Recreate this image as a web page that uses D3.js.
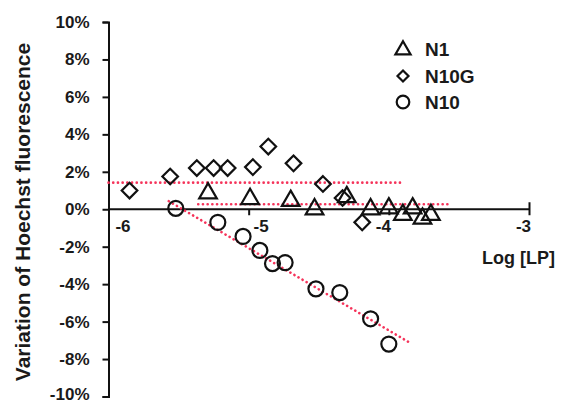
<!DOCTYPE html>
<html>
<head>
<meta charset="utf-8">
<script src="https://cdn.jsdelivr.net/npm/d3@7/dist/d3.min.js"></script>
<style>
  html, body { margin: 0; padding: 0; background: #fff; }
  svg { display: block; font-family: "Liberation Sans", Arial, sans-serif; font-weight: bold; }
</style>
</head>
<body>
<svg id="chart" width="563" height="405"></svg>
<script>
// ---- data ----
const n1X   = [-5.29, -4.99, -4.70, -4.53, -4.30, -4.13, -4.00, -3.90, -3.83, -3.76, -3.70];
const n1Y   = [0.85, 0.55, 0.45, 0.0, 0.65, 0.0, 0.05, -0.3, 0.05, -0.5, -0.3];
const n10gX = [-5.85, -5.56, -5.37, -5.25, -5.15, -4.97, -4.86, -4.68, -4.47, -4.33, -4.19];
const n10gY = [1.0, 1.75, 2.2, 2.2, 2.2, 2.25, 3.35, 2.45, 1.35, 0.6, -0.7];
const n10X  = [-5.52, -5.22, -5.04, -4.92, -4.83, -4.74, -4.52, -4.35, -4.13, -4.00];
const n10Y  = [0.05, -0.7, -1.45, -2.2, -2.9, -2.85, -4.25, -4.45, -5.85, -7.2];
// dotted trend lines: [x1, y1, x2, y2]
const trendN10G = [-6.0, 1.42, -3.92, 1.42];
const trendN1   = [-5.36, 0.27, -3.58, 0.27];
const trendN10  = [-5.57, 0.43, -3.85, -7.13];
const xTicks = [-6, -5, -4, -3];
const yTicks = [-10, -8, -6, -4, -2, 0, 2, 4, 6, 8, 10];
const seriesNames = ["N1", "N10G", "N10"];
const xTitle = "Log [LP]";
const yTitle = "Variation of Hoechst fluorescence";

// ---- layout ----
const svg = d3.select("#chart");
const x = d3.scaleLinear().domain([-6, -3]).range([108.5, 529]);
const y = d3.scaleLinear().domain([-10, 10]).range([396.5, 22]);
const ink = "#111";
const red = "#f5335a";
const font = "'Liberation Sans', Arial, sans-serif";

// y axis
const yAxis = d3.axisLeft(y).tickValues(yTicks).tickSize(6).tickPadding(13)
  .tickFormat(d => d + "%");
const gy = svg.append("g").attr("transform", `translate(${x(-6)},0)`).call(yAxis);
gy.select(".domain").attr("stroke", ink).attr("stroke-width", 2);
gy.selectAll(".tick line").attr("stroke", ink).attr("stroke-width", 2);
gy.selectAll(".tick text").attr("fill", "#1a1a1a").style("font-size", "17px")
  .style("font-weight", "bold").style("font-family", font)
  .attr("dy", d => d === -10 ? "0.2em" : "0.32em");

// x axis at y = 0
const xAxis = d3.axisBottom(x).tickValues(xTicks).tickSize(6).tickPadding(5)
  .tickFormat(d => d);
const gx = svg.append("g").attr("transform", `translate(0,${y(0)})`).call(xAxis);
gx.select(".domain").attr("stroke", ink).attr("stroke-width", 2)
  .attr("d", `M${x(-6)},0H${x(-3)}`);
gx.selectAll(".tick line").attr("stroke", ink).attr("stroke-width", 2)
  .attr("y1", d => d === -3 ? -7 : 0);
gx.selectAll(".tick text").attr("fill", "#1a1a1a").style("font-size", "17px")
  .style("font-weight", "bold").style("font-family", font)
  .attr("dx", d => d === -6 ? 14 : (d === -5 ? 12 : -6));
gx.selectAll(".tick").filter(d => d === -6).select("line").remove();

// titles
svg.append("text").attr("x", 482).attr("y", 264).attr("fill", "#1a1a1a")
  .style("font-size", "18px").text(xTitle);
svg.append("text").attr("transform", `translate(30,212) rotate(-90)`)
  .attr("text-anchor", "middle").attr("fill", "#1a1a1a")
  .style("font-size", "21px").text(yTitle);

// trend lines
const line = d3.line().x(d => x(d[0])).y(d => y(d[1]));
[trendN10G, trendN1, trendN10].forEach(t => {
  svg.append("path").attr("d", line([[t[0], t[1]], [t[2], t[3]]]))
    .attr("fill", "none").attr("stroke", red).attr("stroke-width", 2.6)
    .attr("stroke-dasharray", "0.1 4.6").attr("stroke-linecap", "round");
});

// markers
const triPath = d3.symbol().type(d3.symbolTriangle).size(135)();
const diaPath = "M0,-7.8L7.8,0L0,7.8L-7.8,0Z";
function draw(xs, ys, kind) {
  const g = svg.append("g");
  xs.forEach((xv, i) => {
    if (kind === "circle") {
      g.append("circle").attr("cx", x(xv)).attr("cy", y(ys[i])).attr("r", 7.5)
        .attr("fill", "none").attr("stroke", ink).attr("stroke-width", 2.2);
    } else {
      g.append("path").attr("d", kind === "tri" ? triPath : diaPath)
        .attr("transform", `translate(${x(xv)},${y(ys[i])})`)
        .attr("fill", "none").attr("stroke", ink).attr("stroke-width", 2.2)
        .attr("stroke-linejoin", "miter");
    }
  });
}
draw(n10gX, n10gY, "dia");
draw(n1X, n1Y, "tri");
draw(n10X, n10Y, "circle");

// legend
const legKinds = ["tri", "dia", "circle"];
const legX = 403;
const legY = [49, 76, 102];
seriesNames.forEach((name, i) => {
  const cy = legY[i];
  if (legKinds[i] === "circle") {
    svg.append("circle").attr("cx", legX).attr("cy", cy).attr("r", 6.3)
      .attr("fill", "none").attr("stroke", ink).attr("stroke-width", 2.2);
  } else if (legKinds[i] === "tri") {
    svg.append("path").attr("d", d3.symbol().type(d3.symbolTriangle).size(100)())
      .attr("transform", `translate(${legX},${cy + 1})`)
      .attr("fill", "none").attr("stroke", ink).attr("stroke-width", 2.2);
  } else {
    svg.append("path").attr("d", "M0,-5.5L5.5,0L0,5.5L-5.5,0Z")
      .attr("transform", `translate(${legX},${cy})`)
      .attr("fill", "none").attr("stroke", ink).attr("stroke-width", 2.2);
  }
  svg.append("text").attr("x", legX + 22).attr("y", cy + 7).attr("fill", "#1a1a1a")
    .style("font-size", "19px").text(name);
});
</script>
</body>
</html>
